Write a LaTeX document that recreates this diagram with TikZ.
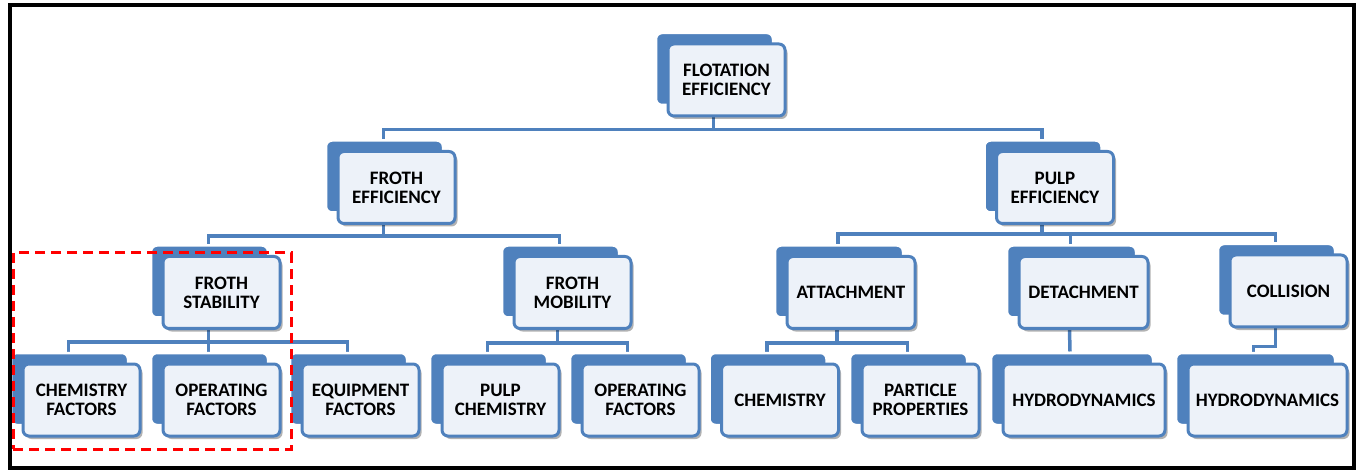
\documentclass[tikz,border=0pt]{standalone}
\usepackage{fontspec}
\setmainfont{Carlito}
\usetikzlibrary{
    calc,
    shadows,
    backgrounds
}
\definecolor{cardblue}{HTML}{4F81BD}
\definecolor{cardfill}{HTML}{EDF2F9}
\tikzset{
    % --- Card: light front box with a blue box peeking out behind ---
    card/.style = {
        rectangle, rounded corners=6pt,
        draw=cardblue, line width=3pt, fill=cardfill,
        minimum width=117pt, minimum height=72pt,
        inner xsep=4pt, align=center,
        font=\fontsize{19}{19}\selectfont\bfseries,
        preaction={fill=cardblue, draw=white, line width=2.5pt,
            transform canvas={shift={(-12pt,11pt)}}},
        drop shadow={shadow xshift=2.5pt,shadow yshift=-3pt,opacity=0.3,fill=black}
    },
    % --- Wider card for long labels ---
    wide card/.style = {
        card, minimum width=#1
    },
    % --- Tree connector ---
    link/.style = {
        draw=cardblue, line width=3.5pt
    },
    % --- Red dashed highlight ---
    focus box/.style = {
        rectangle, draw=red, line width=3pt,
        dash pattern=on 10pt off 6pt
    },
    % --- Outer frame ---
    frame/.style = {
        draw=black, line width=4pt
    }
}

\begin{document}
\begin{tikzpicture}[x=1pt, y=-1pt]

\useasboundingbox (0,0) rectangle (1360,470);

% ---------------------------------------------------------
% Top level
% ---------------------------------------------------------
\node[card] (FlotEff) at (726.5, 80) {FLOTATION\\EFFICIENCY};

% ---------------------------------------------------------
% Second level
% ---------------------------------------------------------
\node[card] (FrothEff) at (396.5, 187.5) {FROTH\\EFFICIENCY};
\node[card] (PulpEff)  at (1055, 187.5)  {PULP\\EFFICIENCY};

% ---------------------------------------------------------
% Third level
% ---------------------------------------------------------
\node[card] (FrothStab) at (221.5, 292.5) {FROTH\\STABILITY};
\node[card] (FrothMob)  at (572.5, 292.5) {FROTH\\MOBILITY};
\node[wide card=128pt] (Attach) at (851, 292.5)    {ATTACHMENT};
\node[wide card=129pt] (Detach) at (1083.5, 292.5) {DETACHMENT};
\node[card] (Collis) at (1288.5, 291) {COLLISION};

% ---------------------------------------------------------
% Bottom level
% ---------------------------------------------------------
\node[card] (ChemFac)  at (81.5, 400)  {CHEMISTRY\\FACTORS};
\node[card] (OpFac)    at (221.5, 400) {OPERATING\\FACTORS};
\node[card] (EquipFac) at (360.5, 400) {EQUIPMENT\\FACTORS};
\node[card] (PulpChem) at (500.5, 400) {PULP\\CHEMISTRY};
\node[card] (OpFacMob) at (640.5, 400) {OPERATING\\FACTORS};
\node[card] (Chem)     at (780, 400)   {CHEMISTRY};
\node[card] (PartProp) at (920.5, 400) {PARTICLE\\PROPERTIES};
\node[wide card=162pt] (HydroDet) at (1084, 400)   {HYDRODYNAMICS};
\node[wide card=159pt] (HydroCol) at (1267.5, 400) {HYDRODYNAMICS};

% ---------------------------------------------------------
% Connectors (behind the cards)
% ---------------------------------------------------------
\begin{scope}[on background layer]
\draw[link] ($(FlotEff.south)+(-13,0)$) -- ++(0,12) -| ($(FrothEff.north)+(-13,-11)$);
\draw[link] ($(FlotEff.south)+(-13,0)$) -- ++(0,12) -| ($(PulpEff.north)+(-13,-11)$);

\draw[link] ($(FrothEff.south)+(-13,0)$) -- ++(0,11) -| ($(FrothStab.north)+(-13,-11)$);
\draw[link] ($(FrothEff.south)+(-13,0)$) -- ++(0,11) -| ($(FrothMob.north)+(-13,-11)$);

\draw[link] ($(PulpEff.south)+(-13,0)$) -- ++(0,9) -| ($(Attach.north)+(-13,-11)$);
\draw[link] ($(PulpEff.south)+(-13,0)$) -- ++(0,9) -| ($(Detach.north)+(-13,-11)$);
\draw[link] ($(PulpEff.south)+(-13,0)$) -- ++(0,9) -| ($(Collis.north)+(-13,-11)$);

\draw[link] ($(FrothStab.south)+(-13,0)$) -- ++(0,12) -| ($(ChemFac.north)+(-13,-11)$);
\draw[link] ($(FrothStab.south)+(-13,0)$) -- ++(0,12) -| ($(OpFac.north)+(-13,-11)$);
\draw[link] ($(FrothStab.south)+(-13,0)$) -- ++(0,12) -| ($(EquipFac.north)+(-13,-11)$);

\draw[link] ($(FrothMob.south)+(-15,0)$) -- ++(0,13) -| ($(PulpChem.north)+(-13,-11)$);
\draw[link] ($(FrothMob.south)+(-15,0)$) -- ++(0,13) -| ($(OpFacMob.north)+(-13,-11)$);

\draw[link] ($(Attach.south)+(-14,0)$) -- ++(0,13) -| ($(Chem.north)+(-13,-11)$);
\draw[link] ($(Attach.south)+(-14,0)$) -- ++(0,13) -| ($(PartProp.north)+(-13,-11)$);

\draw[link] ($(Detach.south)+(-14,0)$) -- ($(HydroDet.north)+(-14,-11)$);

\draw[link] ($(Collis.south)+(-13,0)$) -- ++(0,18) -| ($(HydroCol.north)+(-14,-11)$);
\end{scope}

% ---------------------------------------------------------
% Highlight and frame
% ---------------------------------------------------------
\node[focus box, minimum width=278pt, minimum height=196pt] (Focus) at (152, 351) {};
\draw[frame] (9.5,5) rectangle (1354,468);

\end{tikzpicture}
\end{document}
